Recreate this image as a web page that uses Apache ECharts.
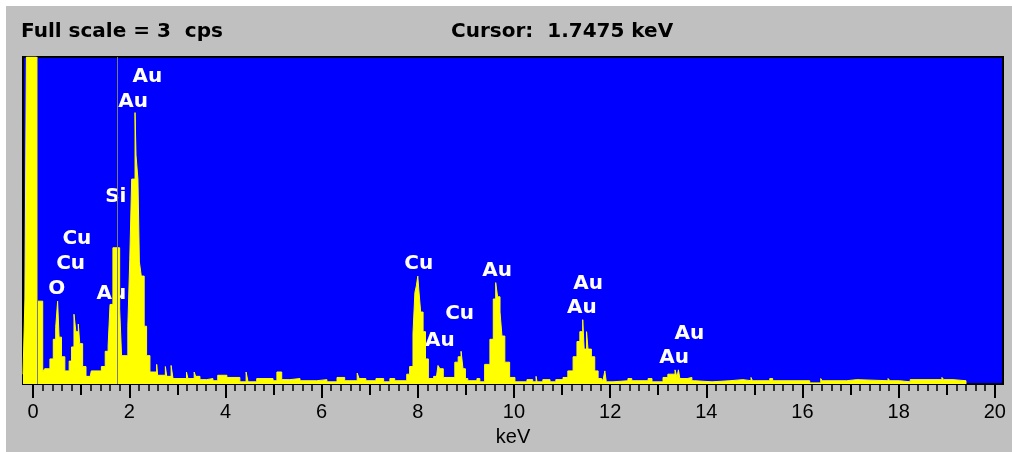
<!DOCTYPE html>
<html>
<head>
<meta charset="utf-8">
<script src="https://cdn.jsdelivr.net/npm/echarts@6/dist/echarts.min.js"></script>
<style>
  body { margin: 0; background: #ffffff; }
  #panel { position: absolute; left: 6px; top: 6px; width: 1006px; height: 446px; background: #c0c0c0; }
  #chart { position: absolute; left: 0; top: 0; width: 1012px; height: 452px; }
</style>
</head>
<body>
<div id="panel"></div>
<div id="chart"></div>
<script>
// spectrum: each level starts at energy[i] (keV) and holds until the next one
var energy = [
  -0.21, -0.17, -0.14, 0.07, 0.10, 0.20, 0.24, 0.35, 0.42, 0.47,
  0.51, 0.54, 0.59, 0.66, 0.75, 0.80, 0.85, 0.89, 0.94, 0.97,
  1.03, 1.10, 1.18, 1.21, 1.42, 1.50, 1.56, 1.60, 1.66, 1.80,
  1.84, 1.97, 2.01, 2.05, 2.12, 2.14, 2.18, 2.21, 2.25, 2.31,
  2.36, 2.43, 2.57, 2.59, 2.75, 2.78, 2.87, 2.91, 3.19, 3.22,
  3.35, 3.38, 3.47, 3.61, 3.74, 3.84, 4.03, 4.30, 4.43, 4.47,
  4.65, 4.99, 5.07, 5.17, 5.34, 5.55, 5.90, 6.11, 6.32, 6.48,
  6.74, 6.78, 6.92, 7.13, 7.29, 7.42, 7.52, 7.77, 7.83, 7.90,
  7.94, 7.97, 8.00, 8.02, 8.06, 8.11, 8.16, 8.22, 8.33, 8.38,
  8.42, 8.46, 8.53, 8.77, 8.84, 8.90, 8.94, 8.99, 9.04, 9.23,
  9.29, 9.39, 9.50, 9.57, 9.62, 9.66, 9.71, 9.75, 9.81, 9.91,
  10.02, 10.27, 10.39, 10.46, 10.48, 10.60, 10.75, 10.87, 11.02, 11.12,
  11.23, 11.31, 11.37, 11.43, 11.46, 11.51, 11.54, 11.61, 11.68, 11.75,
  11.82, 11.85, 11.89, 11.92, 12.06, 12.37, 12.45, 12.79, 12.87, 13.10,
  13.20, 13.35, 13.39, 13.42, 13.45, 13.60, 13.70, 13.76, 14.12, 14.49,
  14.76, 14.93, 14.96, 15.32, 15.38, 16.15, 16.38, 16.41, 16.92, 17.13,
  17.78, 17.82, 18.02, 18.24, 18.90, 18.94, 19.13, 19.40
];
var counts = [
  0.09, 0.78, 3.00, 0.00, 0.76, 0.11, 0.14, 0.23, 0.41, 0.52,
  0.76, 0.43, 0.25, 0.12, 0.21, 0.34, 0.64, 0.48, 0.55, 0.37,
  0.16, 0.07, 0.05, 0.12, 0.16, 0.30, 0.35, 0.73, 1.25, 0.69,
  0.26, 0.53, 1.14, 1.88, 2.49, 2.10, 1.88, 1.12, 0.99, 0.53,
  0.26, 0.11, 0.18, 0.08, 0.16, 0.07, 0.17, 0.05, 0.11, 0.05,
  0.11, 0.07, 0.04, 0.05, 0.03, 0.08, 0.06, 0.02, 0.11, 0.02,
  0.05, 0.03, 0.11, 0.04, 0.05, 0.03, 0.04, 0.02, 0.06, 0.03,
  0.10, 0.05, 0.03, 0.05, 0.02, 0.05, 0.03, 0.09, 0.16, 0.46,
  0.84, 0.90, 0.99, 0.87, 0.66, 0.48, 0.23, 0.05, 0.07, 0.04,
  0.17, 0.14, 0.06, 0.20, 0.25, 0.30, 0.14, 0.05, 0.03, 0.05,
  0.02, 0.18, 0.41, 0.78, 0.93, 0.80, 0.66, 0.44, 0.20, 0.06,
  0.02, 0.04, 0.02, 0.07, 0.02, 0.04, 0.02, 0.04, 0.06, 0.12,
  0.25, 0.39, 0.48, 0.59, 0.32, 0.48, 0.32, 0.25, 0.12, 0.05,
  0.06, 0.03, 0.12, 0.02, 0.03, 0.05, 0.03, 0.05, 0.02, 0.06,
  0.09, 0.13, 0.06, 0.13, 0.05, 0.06, 0.03, 0.02, 0.03, 0.04,
  0.03, 0.06, 0.03, 0.05, 0.03, 0.01, 0.05, 0.03, 0.04, 0.03,
  0.05, 0.03, 0.02, 0.04, 0.06, 0.04, 0.03, 0.00
];

// peak labels: element, energy (keV), height (cps) of the label centre
var labelNames  = ['Au', 'Au', 'Si', 'Cu', 'Cu', 'O', 'Au', 'Cu', 'Au', 'Cu', 'Au', 'Au', 'Au', 'Au', 'Au'];
var labelEnergy = [2.375, 2.08, 1.72, 0.91, 0.78, 0.49, 1.63, 8.02, 8.46, 8.87, 9.65, 11.54, 11.41, 13.65, 13.33];
var labelHeight = [2.82, 2.59, 1.72, 1.33, 1.10, 0.87, 0.83, 1.10, 0.40, 0.64, 1.04, 0.92, 0.70, 0.46, 0.24];

var tickLabels = [0, 2, 4, 6, 8, 10, 12, 14, 16, 18, 20];
var fullScale = 3;
var cursorKeV = 1.7475;
var markerKeV = 0.083;

var midTicks = [];
for (var i = 1; i < 20; i += 2) midTicks.push(i);
var minorTicks = [];
for (var j = 0; j <= 100; j++) minorTicks.push(Math.round(j * 0.2 * 10) / 10);

var spectrum = energy.map(function (e, k) { return [e, counts[k]]; });
var labels = labelNames.map(function (n, k) {
  return { name: n, value: [labelEnergy[k], labelHeight[k]] };
});

var dom = document.getElementById("chart");
var myChart = echarts.init(dom);

var axisBase = {
  type: 'value',
  min: -0.21,
  max: 20.17,
  position: 'bottom',
  splitLine: { show: false }
};

option = {
  animation: false,
  grid: {
    left: 23, right: 9, top: 57, bottom: 67,
    show: true,
    backgroundColor: '#0000ff',
    borderColor: '#000000',
    borderWidth: 2
  },
  graphic: [
    {
      type: 'text', left: 21, top: 22,
      style: { text: 'Full scale = 3  cps', fill: '#000', font: 'bold 20px "DejaVu Sans"' }
    },
    {
      type: 'text', left: 451, top: 22,
      style: { text: 'Cursor:  1.7475 keV', fill: '#000', font: 'bold 20px "DejaVu Sans"' }
    }
  ],
  xAxis: [
    Object.assign({}, axisBase, {
      name: 'keV',
      nameLocation: 'middle',
      nameGap: 43,
      nameTextStyle: { color: '#000', fontSize: 20, fontFamily: 'Liberation Sans' },
      axisLine: { show: true, lineStyle: { color: '#000', width: 2 } },
      axisTick: { show: true, length: 14, customValues: tickLabels, lineStyle: { color: '#000', width: 2 } },
      axisLabel: { show: true, customValues: tickLabels, margin: 18, color: '#000', fontSize: 20, fontFamily: 'Liberation Sans' }
    }),
    Object.assign({}, axisBase, {
      axisLine: { show: false },
      axisTick: { show: true, length: 11, customValues: midTicks, lineStyle: { color: '#000', width: 2 } },
      axisLabel: { show: false }
    }),
    Object.assign({}, axisBase, {
      axisLine: { show: false },
      axisTick: { show: true, length: 7, customValues: minorTicks, lineStyle: { color: '#000', width: 1.5 } },
      axisLabel: { show: false }
    })
  ],
  yAxis: {
    type: 'value',
    min: 0,
    max: fullScale,
    show: false
  },
  series: [
    {
      type: 'line',
      step: 'end',
      data: spectrum,
      showSymbol: false,
      clip: true,
      silent: true,
      lineStyle: { color: '#ffff00', width: 1 },
      areaStyle: { color: '#ffff00', opacity: 1 },
      markLine: {
        silent: true,
        symbol: 'none',
        label: { show: false },
        lineStyle: { color: '#7a7a7a', width: 1, type: 'solid' },
        data: [{ xAxis: cursorKeV }, { xAxis: markerKeV }]
      }
    },
    {
      type: 'scatter',
      data: labels,
      symbolSize: 0,
      silent: true,
      itemStyle: { color: '#ffffff', opacity: 1 },
      label: {
        show: true,
        position: 'inside',
        formatter: '{b}',
        color: '#ffffff',
        opacity: 1,
        textBorderWidth: 0,
        fontFamily: 'DejaVu Sans',
        fontWeight: 'bold',
        fontSize: 20
      }
    }
  ]
};

if (option && typeof option === "object") {
  myChart.setOption(option, true);
}
</script>
</body>
</html>
